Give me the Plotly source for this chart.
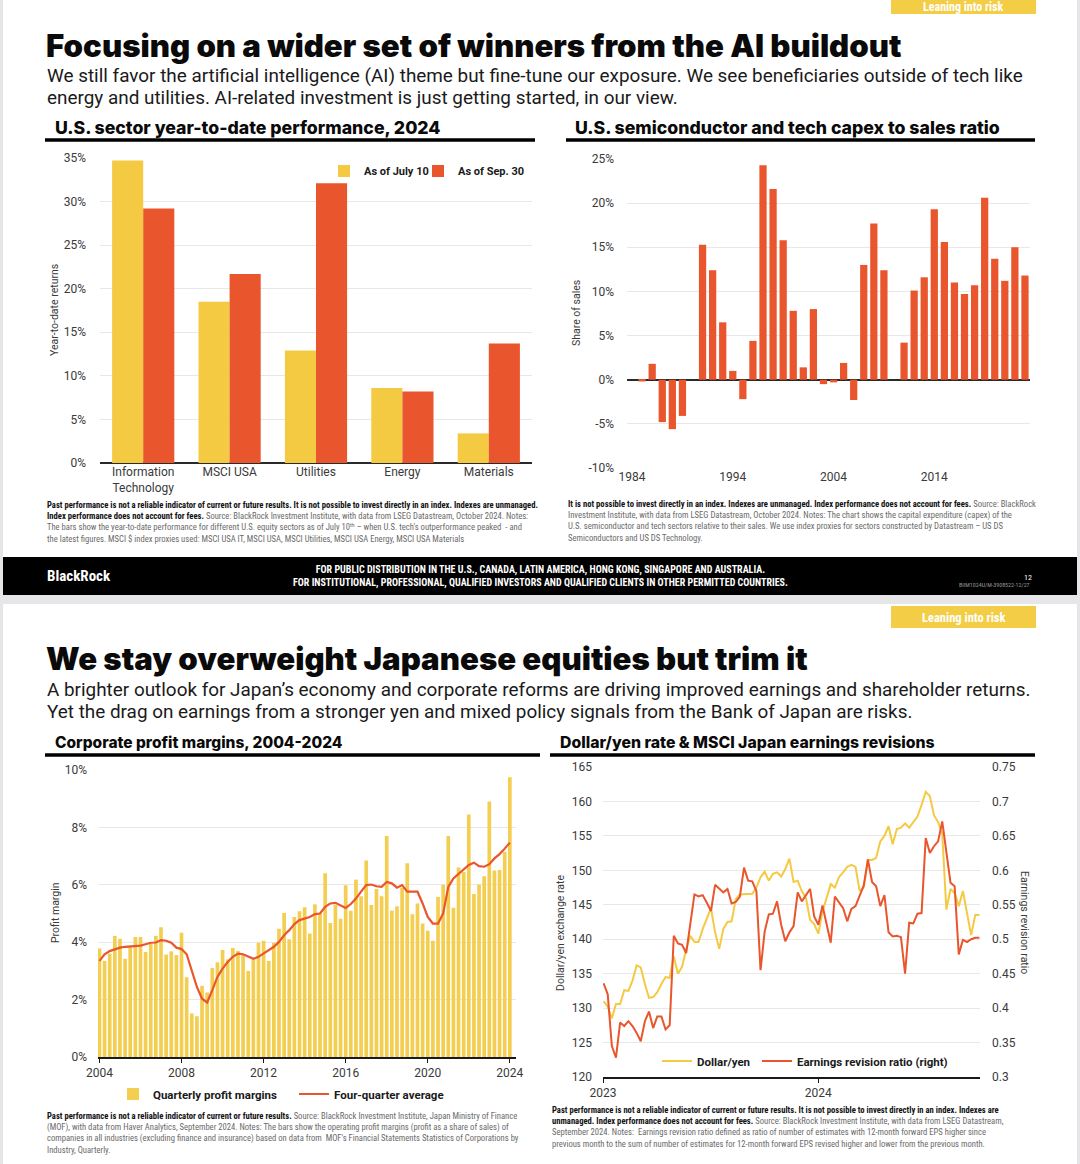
import plotly.graph_objects as go
import pandas as pd

W, H = 1080, 1164

# ---------------- Chart 1: U.S. sector YTD performance ----------------
SECTORS = ["Information<br>Technology", "MSCI USA", "Utilities", "Energy", "Materials"]
YTD_JUL10 = [34.7, 18.5, 12.9, 8.6, 3.4]
YTD_SEP30 = [29.2, 21.7, 32.1, 8.2, 13.7]

# ---------------- Chart 2: semiconductor & tech capex / sales ----------------
CAPEX_YEARS = list(range(1984, 2024))
CAPEX_SALES = [0.0, -0.2, 1.8, -4.8, -5.6, -4.1, 0.0, 15.3, 12.4, 6.5,
               1.0, -2.2, 4.4, 24.3, 21.6, 15.8, 7.8, 1.4, 8.0, -0.5,
               -0.3, 1.9, -2.3, 13.0, 17.7, 12.4, 0.0, 4.2, 10.1, 11.6,
               19.3, 15.6, 11.0, 9.7, 10.7, 20.6, 13.7, 11.2, 15.0, 11.8]
CAPEX_TICK_YEARS = [1984, 1994, 2004, 2014]
CAPEX_Y_TICKS = [-10, -5, 0, 5, 10, 15, 20, 25]
CAPEX_Y_LABELS = ["-10%", "-5%", "0%", "5%", "10%", "15%", "20%", "25%"]

# ---------------- Chart 3: Japan corporate profit margins (quarterly, 2004 Q2 - 2024 Q2) ----------------
PM_START_YEAR = 2004
PROFIT_MARGIN = [3.78, 3.35, 3.60, 4.22, 4.12, 3.42, 3.85, 4.18, 4.18, 3.66,
                 3.95, 4.22, 4.52, 3.57, 3.68, 3.55, 4.33, 2.78, 1.52, 1.42,
                 2.48, 2.25, 3.10, 3.30, 3.73, 3.40, 3.80, 3.70, 3.55, 3.00,
                 3.40, 3.98, 4.05, 3.35, 3.98, 4.47, 5.02, 4.10, 4.88, 5.08,
                 5.22, 4.30, 5.32, 5.00, 6.40, 4.67, 5.30, 4.82, 5.98, 5.10,
                 6.18, 5.60, 6.85, 5.30, 5.85, 5.60, 7.70, 5.10, 5.25, 5.90,
                 6.75, 4.97, 5.35, 4.65, 4.40, 4.05, 5.58, 6.00, 7.70, 5.20,
                 6.60, 6.45, 8.45, 5.68, 6.00, 6.30, 8.90, 6.50, 6.52, 7.15,
                 9.75]
FOUR_Q_AVG = [3.35, 3.58, 3.69, 3.76, 3.81, 3.84, 3.86, 3.88, 3.88, 3.93,
              3.98, 3.99, 4.07, 4.05, 3.98, 3.81, 3.76, 3.58, 3.02, 2.44,
              2.03, 1.90, 2.33, 2.79, 3.08, 3.31, 3.49, 3.60, 3.58, 3.51,
              3.42, 3.49, 3.60, 3.70, 3.84, 4.01, 4.24, 4.42, 4.63, 4.77,
              4.83, 4.88, 4.98, 5.00, 5.23, 5.35, 5.37, 5.29, 5.19, 5.33,
              5.52, 5.76, 5.99, 6.01, 5.95, 5.93, 6.10, 6.05, 5.90, 5.99,
              5.76, 5.76, 5.76, 5.35, 4.88, 4.65, 4.65, 5.00, 5.93, 6.22,
              6.37, 6.51, 6.69, 6.77, 6.65, 6.63, 6.72, 6.92, 7.07, 7.26,
              7.47]
PM_TICK_YEARS = [2004, 2008, 2012, 2016, 2020, 2024]

# ---------------- Chart 4: Dollar/yen & MSCI Japan earnings revision ratio (weekly) ----------------
FX_START = "2023-01-02"
USDJPY = [131.0, 130.2, 128.5, 130.6, 130.6, 132.6, 132.5, 134.0, 136.2, 135.9,
          133.5, 131.5, 131.6, 132.3, 133.5, 134.5, 134.4, 137.5, 135.0, 136.0,
          138.5, 140.5, 139.6, 139.6, 141.5, 143.0, 144.5, 141.0, 138.6, 141.5,
          142.5, 142.6, 145.8, 146.5, 146.5, 146.5, 146.6, 147.5, 149.0, 149.8,
          148.5, 149.5, 149.7, 149.1, 150.2, 151.7, 148.3, 148.5, 147.0, 146.0,
          142.8, 142.2, 140.8, 144.0, 146.0, 148.0, 147.5, 149.0, 149.7, 150.5,
          150.8, 150.5, 147.0, 147.5, 151.5, 151.5, 151.8, 154.2, 155.0, 156.4,
          153.8, 156.0, 156.2, 156.8, 156.2, 157.0, 157.8, 159.5, 161.4, 160.8,
          158.0, 157.0, 155.3, 144.3, 147.3, 146.7, 144.8, 147.0, 143.5, 140.6,
          143.5, 143.5]
REVISION_RATIO = [0.436, 0.420, 0.345, 0.328, 0.379, 0.374, 0.381, 0.374, 0.364, 0.352,
                  0.381, 0.395, 0.371, 0.388, 0.388, 0.369, 0.375, 0.505, 0.494, 0.492,
                  0.480, 0.526, 0.565, 0.562, 0.564, 0.553, 0.541, 0.579, 0.574, 0.568,
                  0.573, 0.552, 0.554, 0.562, 0.604, 0.585, 0.584, 0.570, 0.455, 0.511,
                  0.536, 0.537, 0.555, 0.521, 0.497, 0.510, 0.519, 0.568, 0.555, 0.564,
                  0.573, 0.533, 0.521, 0.549, 0.520, 0.495, 0.562, 0.554, 0.545, 0.526,
                  0.544, 0.548, 0.562, 0.578, 0.616, 0.583, 0.577, 0.548, 0.564, 0.510,
                  0.504, 0.505, 0.503, 0.450, 0.524, 0.523, 0.537, 0.538, 0.647, 0.625,
                  0.635, 0.642, 0.671, 0.630, 0.582, 0.577, 0.478, 0.499, 0.496, 0.500,
                  0.502, 0.502]

# ---------------- Styles ----------------
YELLOW = "#F4CA43"
YELLOW2 = "#F3CE50"
RED = "#E9552C"
GRID = "#E8E8E8"
TXT = "#3A3A3A"
FONT = "Roboto"
HEAD = "Inter"
NARROW = "Liberation Sans Narrow, Roboto Condensed, Roboto"


def px(x):
    return x / W


def py(y):
    return 1 - y / H


fig = go.Figure()

# Chart 1
fig.add_trace(go.Bar(x=SECTORS, y=YTD_JUL10, name="As of July 10", marker_color=YELLOW,
                     xaxis="x", yaxis="y", legend="legend"))
fig.add_trace(go.Bar(x=SECTORS, y=YTD_SEP30, name="As of Sep. 30", marker_color=RED,
                     xaxis="x", yaxis="y", legend="legend2"))

# Chart 2
fig.add_trace(go.Bar(x=CAPEX_YEARS, y=CAPEX_SALES, marker_color=RED, showlegend=False,
                     xaxis="x2", yaxis="y2"))

# Chart 3
pm_x = [PM_START_YEAR + i / 4 for i in range(len(PROFIT_MARGIN))]
fig.add_trace(go.Bar(x=pm_x, y=PROFIT_MARGIN, marker_color=YELLOW2, name="Quarterly profit margins",
                     xaxis="x3", yaxis="y3", legend="legend3"))
fig.add_trace(go.Scatter(x=pm_x, y=FOUR_Q_AVG, mode="lines", line=dict(color=RED, width=2.2),
                         name="Four-quarter average", xaxis="x3", yaxis="y3", legend="legend4"))

# Chart 4
fx_dates = pd.date_range(FX_START, periods=len(USDJPY), freq="7D")
fig.add_trace(go.Scatter(x=fx_dates, y=USDJPY, mode="lines", line=dict(color=YELLOW, width=2),
                         name="Dollar/yen", xaxis="x4", yaxis="y4", legend="legend5"))
fig.add_trace(go.Scatter(x=fx_dates, y=REVISION_RATIO, mode="lines", line=dict(color=RED, width=2),
                         name="Earnings revision ratio (right)", xaxis="x4", yaxis="y5",
                         legend="legend6"))

tickfont = dict(family=FONT, size=12, color=TXT)


def leg(x, y, size=11.5):
    return dict(x=px(x), y=py(y), xanchor="left", yanchor="middle", orientation="h",
                font=dict(family=FONT, size=size, color="#1A1A1A", weight="bold"),
                bgcolor="rgba(0,0,0,0)", itemwidth=30)


fig.update_layout(
    template="none",
    width=W, height=H, autosize=False,
    margin=dict(l=0, r=0, t=0, b=0, pad=0, autoexpand=False),
    paper_bgcolor="#E6E6E8", plot_bgcolor="rgba(0,0,0,0)",
    font=dict(family=FONT, color=TXT),
    barmode="group", bargap=0.28, bargroupgap=0.0,
    showlegend=True,
    # Chart 1 axes
    xaxis=dict(domain=[px(100), px(532)], anchor="y", tickfont=tickfont, showgrid=False,
               showline=False, ticks="", automargin=False),
    yaxis=dict(domain=[py(463), py(158)], anchor="x", range=[0, 35], dtick=5, ticksuffix="%",
               tickfont=tickfont, gridcolor=GRID, zeroline=True, zerolinecolor="#2A2A2A",
               zerolinewidth=2, ticklabelstandoff=13, ticks="", showline=False, automargin=False),
    # Chart 2 axes
    xaxis2=dict(domain=[px(627), px(1030)], anchor="y2", range=[1983.5, 2023.5],
                tickvals=CAPEX_TICK_YEARS, tickfont=tickfont, showgrid=False, showline=False,
                ticks="", zeroline=False, automargin=False),
    yaxis2=dict(domain=[py(468), py(159)], anchor="x2", range=[-10, 25], tickvals=CAPEX_Y_TICKS,
                ticktext=CAPEX_Y_LABELS, tickfont=tickfont, gridcolor=GRID, zeroline=True,
                zerolinecolor="#2A2A2A", zerolinewidth=2, ticklabelstandoff=12, ticks="",
                showline=False, automargin=False),
    # Chart 3 axes
    xaxis3=dict(domain=[px(98), px(516)], anchor="y3", range=[2003.93, 2024.3],
                tickvals=PM_TICK_YEARS, tickfont=tickfont, showgrid=False, showline=True,
                linecolor="#1A1A1A", linewidth=2, ticks="outside", ticklen=4, tickcolor="#1A1A1A",
                zeroline=False, automargin=False),
    yaxis3=dict(domain=[py(1057), py(770)], anchor="x3", range=[0, 10], dtick=2, ticksuffix="%",
                tickfont=tickfont, gridcolor=GRID, zeroline=False, ticklabelstandoff=10, ticks="",
                showline=False, automargin=False),
    # Chart 4 axes
    xaxis4=dict(domain=[px(603), px(980)], anchor="y4", type="date",
                range=["2023-01-01", "2024-10-01"], dtick="M12", tickformat="%Y",
                tickfont=tickfont, showgrid=False, showline=True, linecolor="#1A1A1A",
                linewidth=2, ticks="outside", ticklen=4, tickcolor="#1A1A1A", automargin=False),
    yaxis4=dict(domain=[py(1077), py(767)], anchor="x4", range=[120, 165], dtick=5,
                tickfont=tickfont, gridcolor=GRID, zeroline=False, ticklabelstandoff=10,
                ticks="", showline=False, automargin=False),
    yaxis5=dict(domain=[py(1077), py(767)], anchor="x4", overlaying="y4", side="right",
                range=[0.3, 0.75], dtick=0.05, tickfont=tickfont, showgrid=False,
                zeroline=False, ticklabelstandoff=11, ticks="", showline=False, automargin=False),
    legend=leg(324, 171, 11),
    legend2=leg(418, 171, 11),
    legend3=leg(113, 1094),
    legend4=leg(294, 1094),
    legend5=leg(657, 1061),
    legend6=leg(757, 1061),
)

shapes = []
# slide backgrounds
shapes.append(dict(type="rect", xref="paper", yref="paper", x0=px(3), x1=px(1077), y0=py(557),
                   y1=py(0), fillcolor="white", line_width=0, layer="below"))
shapes.append(dict(type="rect", xref="paper", yref="paper", x0=px(3), x1=px(1077), y0=py(1164),
                   y1=py(604), fillcolor="white", line_width=0, layer="below"))
shapes.append(dict(type="rect", xref="paper", yref="paper", x0=px(3), x1=px(1077), y0=py(595),
                   y1=py(557), fillcolor="black", line_width=0, layer="below"))
# tags
for (ya, yb) in [(0, 14), (606, 628)]:
    shapes.append(dict(type="rect", xref="paper", yref="paper", x0=px(891), x1=px(1036),
                       y0=py(yb), y1=py(ya), fillcolor="#F3CD45", line_width=0, layer="below"))
# chart title underlines
for (xa, xb, yy) in [(45, 535, 140), (566, 1035, 140), (45, 540, 755), (550, 1035, 755)]:
    shapes.append(dict(type="line", xref="paper", yref="paper", x0=px(xa), x1=px(xb),
                       y0=py(yy), y1=py(yy), line=dict(color="black", width=3.5)))
fig.update_layout(shapes=shapes)

ann = []


def text(x, y, s, size, color="#111", bold=False, xanchor="left", yanchor="middle",
         family=FONT, angle=0, align="left", weight=None):
    w = weight if weight is not None else ("bold" if bold else "normal")
    ann.append(dict(x=px(x), y=py(y), xref="paper", yref="paper", text=s, showarrow=False,
                    xanchor=xanchor, yanchor=yanchor, align=align, textangle=angle,
                    font=dict(family=family, size=size, color=color, weight=w)))


# ---- top slide
text(963, 7, "Leaning into risk", 12, "white", True, "center", family=NARROW)
text(44, 46, "Focusing on a wider set of winners from the AI buildout", 31.2, "#0A0A0A",
     family=HEAD, weight=900)
text(45, 76, "We still favor the artificial intelligence (AI) theme but fine-tune our exposure. "
     "We see beneficiaries outside of tech like", 18.9, "#1A1A1A")
text(45, 97, "energy and utilities. AI-related investment is just getting started, in our view.",
     18.9, "#1A1A1A")
text(53, 127, "U.S. sector year-to-date performance, 2024", 17.7, "#0A0A0A", family=HEAD, weight=800)
text(573, 127, "U.S. semiconductor and tech capex to sales ratio", 17.7, "#0A0A0A", family=HEAD,
     weight=800)
text(55, 310, "Year-to-date returns", 10.5, TXT, angle=-90, xanchor="center")
text(577, 313, "Share of sales", 10.5, TXT, angle=-90, xanchor="center")

G = "#6A6A6A"
text(45, 522,
     "<b>Past performance is not a reliable indicator of current or future results. It is not possible "
     "to invest directly in an index. Indexes are unmanaged.</b><br><b>Index performance does not "
     "account for fees.</b> <span style='color:%s'>Source: BlackRock Investment Institute, with data from "
     "LSEG Datastream, October 2024. Notes:<br>The bars show the year-to-date performance for different "
     "U.S. equity sectors as of July 10<sup>th</sup> – when U.S. tech's outperformance peaked  - and<br>"
     "the latest figures. MSCI $ index proxies used: MSCI USA IT, MSCI USA, MSCI Utilities, MSCI USA "
     "Energy, MSCI USA Materials</span>" % G, 8.6, "#111", family=NARROW)
text(566, 521,
     "<b>It is not possible to invest directly in an index. Indexes are unmanaged. Index performance "
     "does not account for fees.</b> <span style='color:%s'>Source: BlackRock<br>Investment Institute, "
     "with data from LSEG Datastream, October 2024. Notes: The chart shows the capital expenditure "
     "(capex) of the<br>U.S. semiconductor and tech sectors relative to their sales. We use index proxies "
     "for sectors constructed by Datastream – US DS<br>Semiconductors and US DS Technology.</span>" % G,
     8.6, "#111", family=NARROW)

# banner
text(45, 576, "BlackRock", 15, "white", True, family=NARROW)
text(540, 576, "FOR PUBLIC DISTRIBUTION IN THE U.S., CANADA, LATIN AMERICA, HONG KONG, SINGAPORE AND "
     "AUSTRALIA.<br>FOR INSTITUTIONAL, PROFESSIONAL, QUALIFIED INVESTORS AND QUALIFIED CLIENTS IN OTHER "
     "PERMITTED COUNTRIES.", 10, "white", True, "center", family=NARROW, align="center")
text(1032, 584, "BIIM1024U/M-3908522-12/27", 6, "#9A9A9A", False, "right", family=NARROW)
text(1034, 577, "12", 8, "white", False, "right", family=NARROW)

# ---- bottom slide
text(963, 617, "Leaning into risk", 12.5, "white", True, "center", family=NARROW)
text(44, 659, "We stay overweight Japanese equities but trim it", 31.2, "#0A0A0A", family=HEAD,
     weight=900)
text(45, 689, "A brighter outlook for Japan’s economy and corporate reforms are driving improved "
     "earnings and shareholder returns.", 18.9, "#1A1A1A")
text(45, 711, "Yet the drag on earnings from a stronger yen and mixed policy signals from the Bank "
     "of Japan are risks.", 18.9, "#1A1A1A")
text(53, 742, "Corporate profit margins, 2004-2024", 15.5, "#0A0A0A", family=HEAD, weight=800)
text(558, 742, "Dollar/yen rate & MSCI Japan earnings revisions", 15.8, "#0A0A0A", family=HEAD,
     weight=800)
text(55, 913, "Profit margin", 10.5, TXT, angle=-90, xanchor="center")
text(560, 933, "Dollar/yen exchange rate", 10.5, TXT, angle=-90, xanchor="center")
text(1025, 922, "Earnings revision ratio", 10.5, TXT, angle=90, xanchor="center")

text(45, 1133,
     "<b>Past performance is not a reliable indicator of current or future results.</b> "
     "<span style='color:%s'>Source: BlackRock Investment Institute, Japan Ministry of Finance<br>(MOF), "
     "with data from Haver Analytics, September 2024. Notes: The bars show the operating profit margins "
     "(profit as a share of sales) of<br>companies in all industries (excluding finance and insurance) "
     "based on data from  MOF's Financial Statements Statistics of Corporations by<br>Industry, "
     "Quarterly.</span>" % G, 8.6, "#111", family=NARROW)
text(550, 1127,
     "<b>Past performance is not a reliable indicator of current or future results. It is not possible "
     "to invest directly in an index. Indexes are<br>unmanaged. Index performance does not account for "
     "fees.</b> <span style='color:%s'>Source: BlackRock Investment Institute, with data from LSEG "
     "Datastream,<br>September 2024. Notes:  Earnings revision ratio defined as ratio of number of "
     "estimates with 12-month forward EPS higher since<br>previous month to the sum of number of estimates "
     "for 12-month forward EPS revised higher and lower from the previous month.</span>" % G,
     8.6, "#111", family=NARROW)

fig.update_layout(annotations=ann)

fig.write_html("out.html", config={"displayModeBar": False},
               post_script="document.body.style.margin='0px';")
